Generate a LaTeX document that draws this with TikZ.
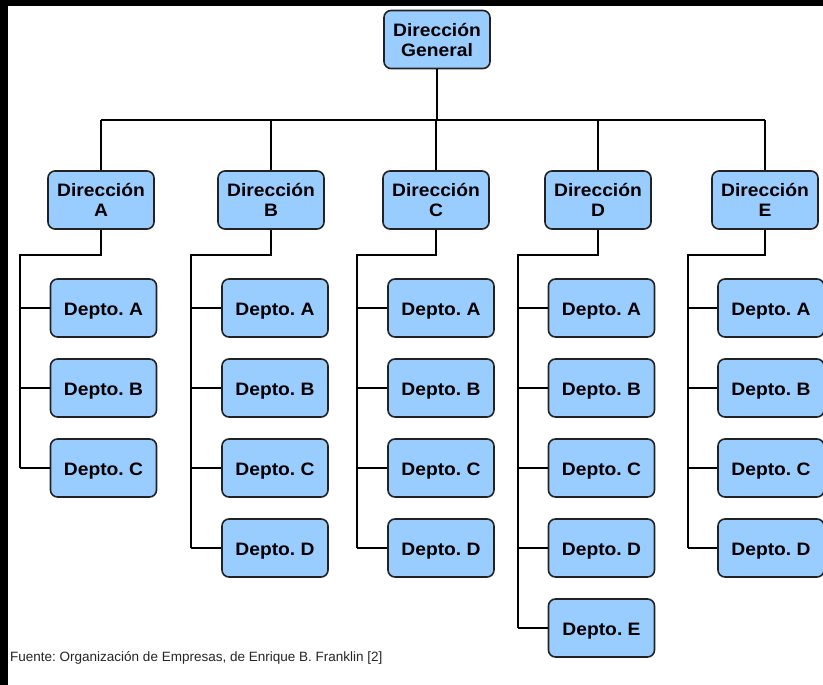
\documentclass[tikz,border=0pt]{standalone}
\usepackage{fontspec}
\setmainfont{Liberation Sans}
\newfontfamily\boxfont[FakeStretch=1.07]{Liberation Sans}
\definecolor{boxfill}{HTML}{99CCFF}
\definecolor{boxline}{HTML}{222222}
\frenchspacing
\begin{document}
\begin{tikzpicture}[x=1pt,y=-1pt,
  orgbox/.style={draw=boxline, fill=boxfill, line width=1.6pt, rounded corners=7pt,
    minimum width=106pt, minimum height=58pt, inner sep=0pt, align=center,
    font=\boxfont\bfseries\fontsize{18}{20}\selectfont},
  deptbox/.style={orgbox, text height=15pt, text depth=0pt},
  conn/.style={draw=black, line width=1.3pt}]
\fill[black] (0,0) rectangle (823,685);
\fill[white] (8,6) rectangle (823,685);
\useasboundingbox (0,0) rectangle (823,685);

\node[orgbox] (g) at (437,39.5) {Dirección\\General};

\node[orgbox] (dA) at (101,200) {Dirección\\A};
\node[orgbox] (dB) at (271,200) {Dirección\\B};
\node[orgbox] (dC) at (436,200) {Dirección\\C};
\node[orgbox] (dD) at (598,200) {Dirección\\D};
\node[orgbox] (dE) at (765,200) {Dirección\\E};

% departments
\foreach \c/\x/\n in {A/103.5/3, B/275/4, C/441/4, D/601.5/5, E/771/4}{
  \foreach \r [count=\i] in {A, B, C, D, E}{
    \ifnum\i>\n\relax\else
      \node[deptbox] (\c\r) at (\x,{308+80*(\i-1)}) {Depto.\ \r};
    \fi
  }
}

% bus
\coordinate (bus) at (437,120);
\draw[conn] (g.south) -- (g.south |- bus);
\draw[conn] (dA.north |- bus) -- (dE.north |- bus);
\foreach \d in {dA,dB,dC,dD,dE}{
  \draw[conn] (\d.north) -- (\d.north |- bus);
}

% trunks
\coordinate (tA) at (20,255);
\coordinate (tB) at (191,255);
\coordinate (tC) at (357,255);
\coordinate (tD) at (518,255);
\coordinate (tE) at (688,255);

\draw[conn] (dA.south) |- (tA) -- (tA |- AC.west);
\draw[conn] (dB.south) |- (tB) -- (tB |- BD.west);
\draw[conn] (dC.south) |- (tC) -- (tC |- CD.west);
\draw[conn] (dD.south) |- (tD) -- (tD |- DE.west);
\draw[conn] (dE.south) |- (tE) -- (tE |- ED.west);

\foreach \r in {A,B,C}{\draw[conn] (tA |- A\r.west) -- (A\r.west);}
\foreach \r in {A,B,C,D}{\draw[conn] (tB |- B\r.west) -- (B\r.west);}
\foreach \r in {A,B,C,D}{\draw[conn] (tC |- C\r.west) -- (C\r.west);}
\foreach \r in {A,B,C,D,E}{\draw[conn] (tD |- D\r.west) -- (D\r.west);}
\foreach \r in {A,B,C,D}{\draw[conn] (tE |- E\r.west) -- (E\r.west);}

\node[anchor=base west, inner sep=0pt, font=\fontsize{13.5}{15}\selectfont, text=black!85] (src) at (10,661)
  {Fuente: Organización de Empresas, de Enrique B. Franklin [2]};
\end{tikzpicture}
\end{document}
